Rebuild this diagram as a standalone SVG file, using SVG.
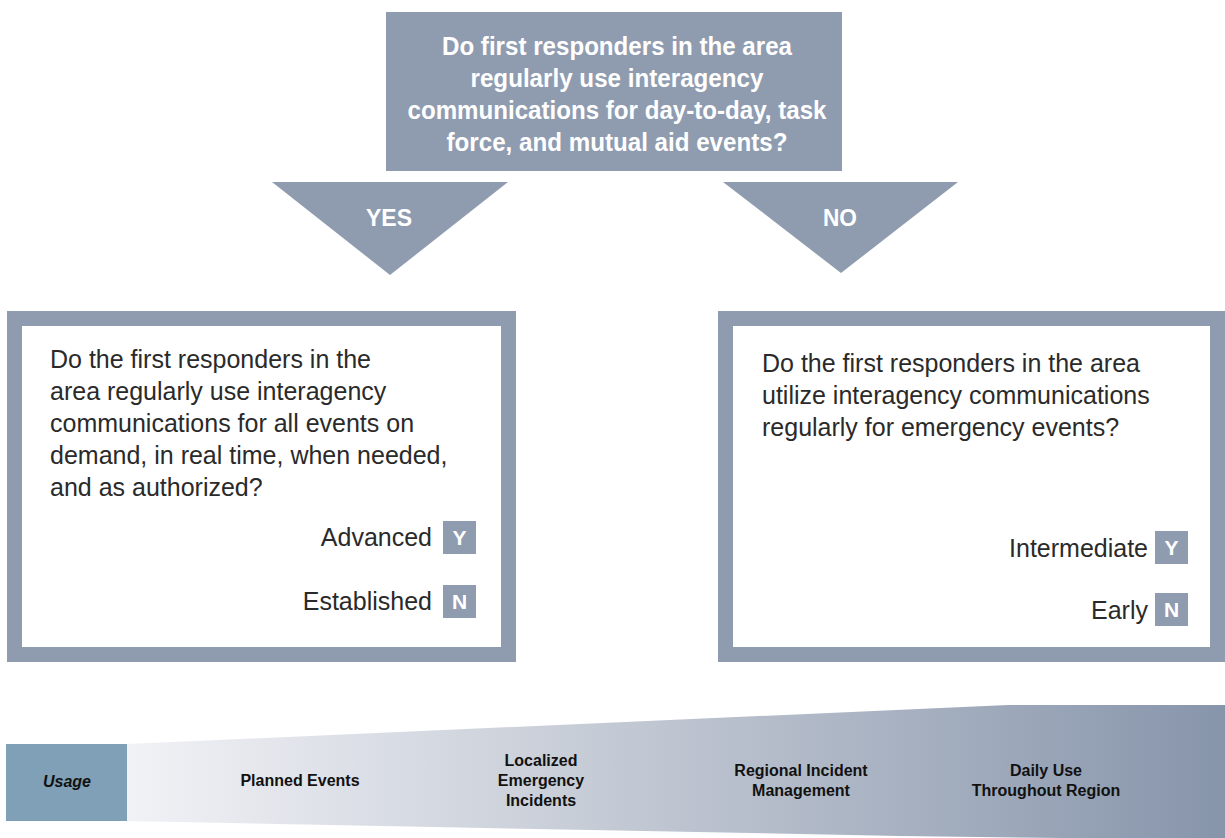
<svg xmlns="http://www.w3.org/2000/svg" width="1225" height="838" viewBox="0 0 1225 838">
<defs>
<style>
.slate{fill:#8f9cb0}
.frame{fill:#ffffff;stroke:#8f9cb0;stroke-width:15}
.hd{font-family:"Liberation Sans",Arial,sans-serif;font-weight:bold;fill:#ffffff;text-anchor:middle}
.body{font-family:"Liberation Sans",Arial,sans-serif;font-size:25px;fill:#2a2a2a}
.lab{font-family:"Liberation Sans",Arial,sans-serif;font-size:25px;fill:#2a2a2a;text-anchor:end}
.yn{font-family:"Liberation Sans",Arial,sans-serif;font-weight:bold;font-size:21px;fill:#ffffff;text-anchor:middle}
.band{font-family:"Liberation Sans",Arial,sans-serif;font-weight:bold;font-size:16px;fill:#111111;text-anchor:middle}
</style>
<linearGradient id="bandGrad" gradientUnits="userSpaceOnUse" x1="127" y1="0" x2="1225" y2="0">
<stop offset="0" stop-color="#f1f2f6"/>
<stop offset="0.45" stop-color="#c3c9d4"/>
<stop offset="1" stop-color="#8795ab"/>
</linearGradient>
</defs>
<rect width="1225" height="838" fill="#ffffff"/>

<g id="question-top">
<rect class="slate" x="386" y="12" width="456" height="159"/>
<text class="hd" font-size="26" x="617" y="55" textLength="350" lengthAdjust="spacingAndGlyphs">Do first responders in the area</text>
<text class="hd" font-size="26" x="617" y="87" textLength="293" lengthAdjust="spacingAndGlyphs">regularly use interagency</text>
<text class="hd" font-size="26" x="617" y="119" textLength="419" lengthAdjust="spacingAndGlyphs">communications for day-to-day, task</text>
<text class="hd" font-size="26" x="617" y="151" textLength="341" lengthAdjust="spacingAndGlyphs">force, and mutual aid events?</text>
</g>

<g id="connectors">
<g id="yes-arrow">
<polygon class="slate" points="272,182 508,182 390,275"/>
<text class="hd" font-size="23" x="389" y="226" textLength="46" lengthAdjust="spacingAndGlyphs">YES</text>
</g>
<g id="no-arrow">
<polygon class="slate" points="723,182 958,182 841,273"/>
<text class="hd" font-size="23" x="840" y="226" textLength="34" lengthAdjust="spacingAndGlyphs">NO</text>
</g>
</g>

<g id="question-yes">
<rect class="frame" x="14.5" y="318.5" width="494" height="336"/>
<text class="body" x="50" y="368">Do the first responders in the</text>
<text class="body" x="50" y="400">area regularly use interagency</text>
<text class="body" x="50" y="432">communications for all events on</text>
<text class="body" x="50" y="464">demand, in real time, when needed,</text>
<text class="body" x="50" y="496">and as authorized?</text>
<text class="lab" x="432" y="546">Advanced</text>
<rect class="slate" x="443" y="521" width="33" height="33"/>
<text class="yn" x="459.5" y="545">Y</text>
<text class="lab" x="432" y="610">Established</text>
<rect class="slate" x="443" y="585" width="33" height="33"/>
<text class="yn" x="459.5" y="609">N</text>
</g>

<g id="question-no">
<rect class="frame" x="725.5" y="318.5" width="492" height="336"/>
<text class="body" x="762" y="372">Do the first responders in the area</text>
<text class="body" x="762" y="404">utilize interagency communications</text>
<text class="body" x="762" y="436">regularly for emergency events?</text>
<text class="lab" x="1148" y="557">Intermediate</text>
<rect class="slate" x="1155" y="531" width="33" height="33"/>
<text class="yn" x="1171.5" y="555">Y</text>
<text class="lab" x="1148" y="619">Early</text>
<rect class="slate" x="1155" y="593" width="33" height="33"/>
<text class="yn" x="1171.5" y="617">N</text>
</g>

<g id="usage-band">
<path d="M127,744 L1008,705 L1225,705 L1225,840 L900,836 L127,821 Z" fill="url(#bandGrad)"/>
<rect x="6" y="744" width="121" height="77" fill="#7fa0b6"/>
<text class="band" x="67" y="787" font-style="italic">Usage</text>
<text class="band" x="300" y="786">Planned Events</text>
<text class="band" x="541" y="766">Localized</text>
<text class="band" x="541" y="786">Emergency</text>
<text class="band" x="541" y="806">Incidents</text>
<text class="band" x="801" y="776">Regional Incident</text>
<text class="band" x="801" y="796">Management</text>
<text class="band" x="1046" y="776">Daily Use</text>
<text class="band" x="1046" y="796">Throughout Region</text>
</g>
</svg>
